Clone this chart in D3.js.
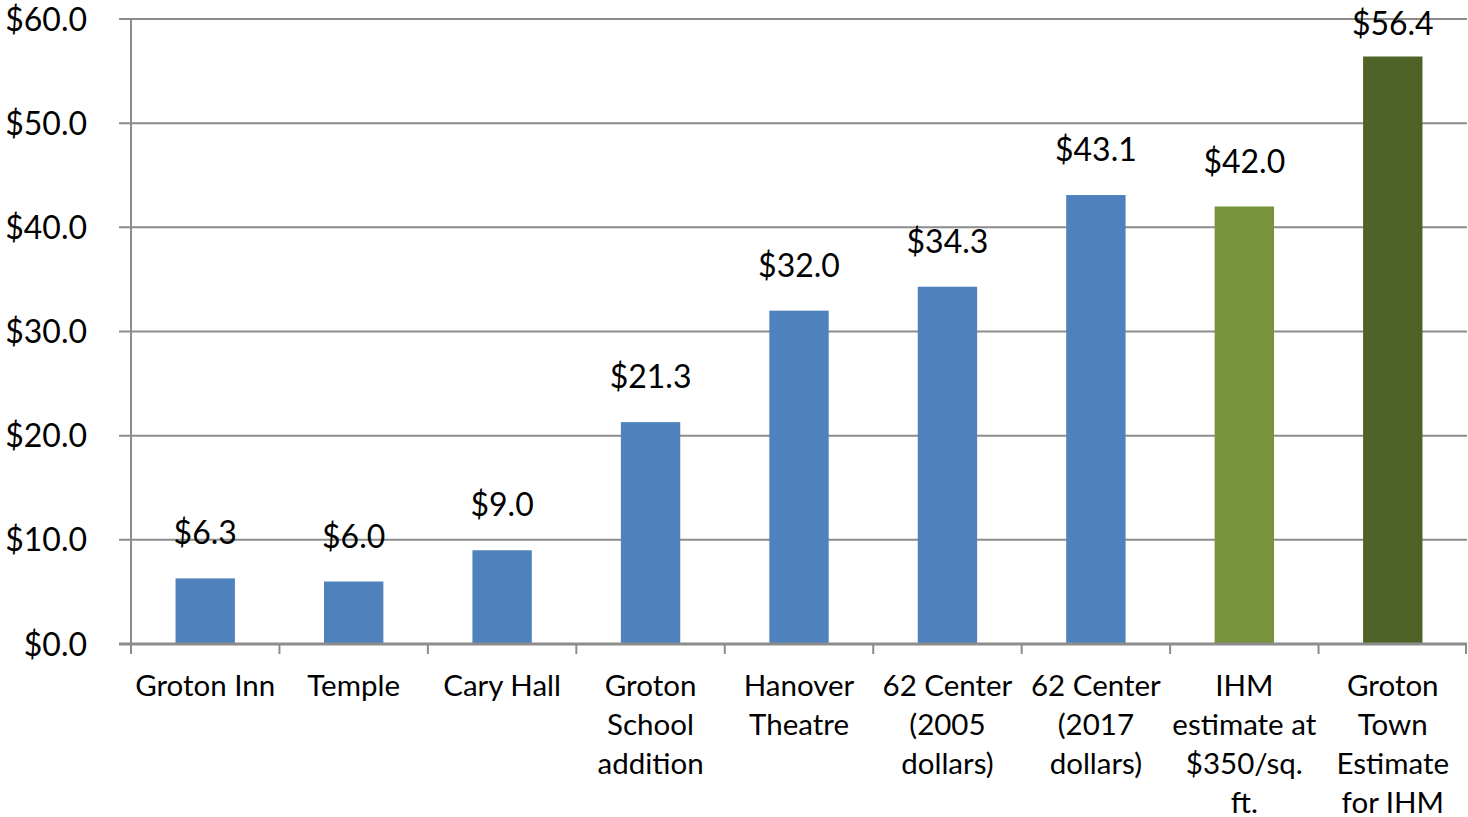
<!DOCTYPE html>
<html>
<head>
<meta charset="utf-8">
<script src="https://cdn.jsdelivr.net/npm/d3@7"></script>
<style>
  body { margin: 0; background: #fff; }
  svg { display: block; font-family: Lato, "Open Sans", sans-serif; }
</style>
</head>
<body>
<svg id="chart" width="1468" height="817"></svg>
<script>
// categories (line breaks as in the original chart)
const categories = [
  "Groton Inn",
  "Temple",
  "Cary Hall",
  "Groton\nSchool\naddition",
  "Hanover\nTheatre",
  "62 Center\n(2005\ndollars)",
  "62 Center\n(2017\ndollars)",
  "IHM\nestimate at\n$350/sq.\nft.",
  "Groton\nTown\nEstimate\nfor IHM"
];
const values = [6.3, 6.0, 9.0, 21.3, 32.0, 34.3, 43.1, 42.0, 56.4];
const barColors = ["#4F81BD", "#4F81BD", "#4F81BD", "#4F81BD", "#4F81BD", "#4F81BD", "#4F81BD", "#77933C", "#4F6228"];
const yTicks = [0, 10, 20, 30, 40, 50, 60];

const margin = {left: 131, right: 1, top: 19, bottom: 173};
const width = 1468, height = 817;
const catFont = 29.5;
const numFont = 32;

const svg = d3.select("#chart");

const x = d3.scaleBand()
  .domain(categories)
  .range([margin.left, width - margin.right])
  .paddingInner(0.6)
  .paddingOuter(0.3);

const y = d3.scaleLinear()
  .domain([0, 60])
  .range([height - margin.bottom, margin.top]);

// gridlines
svg.append("g")
  .selectAll("line")
  .data(yTicks)
  .enter()
  .append("line")
  .attr("x1", margin.left - 12)
  .attr("x2", width - margin.right)
  .attr("y1", d => y(d))
  .attr("y2", d => y(d))
  .attr("stroke", "#8c8c8c")
  .attr("stroke-width", 2);

// y axis labels
svg.append("g")
  .selectAll("text")
  .data(yTicks)
  .enter()
  .append("text")
  .attr("x", 87)
  .attr("y", d => y(d))
  .attr("dy", "0.36em")
  .attr("text-anchor", "end")
  .attr("font-size", numFont)
  .attr("fill", "#000")
  .text(d => "$" + d.toFixed(1));

// bars
svg.append("g")
  .selectAll("rect")
  .data(values)
  .enter()
  .append("rect")
  .attr("x", (d, i) => x(categories[i]))
  .attr("y", d => y(d))
  .attr("width", x.bandwidth())
  .attr("height", d => y(0) - y(d))
  .attr("fill", (d, i) => barColors[i]);

// axes lines
svg.append("line")
  .attr("x1", margin.left).attr("x2", margin.left)
  .attr("y1", margin.top).attr("y2", y(0) + 10)
  .attr("stroke", "#8c8c8c").attr("stroke-width", 2);

svg.append("line")
  .attr("x1", margin.left - 12).attr("x2", width - margin.right)
  .attr("y1", y(0)).attr("y2", y(0))
  .attr("stroke", "#8c8c8c").attr("stroke-width", 3);

// x ticks at band boundaries
const step = x.step();
const boundaries = d3.range(categories.length + 1).map(i => margin.left + i * step);
svg.append("g")
  .selectAll("line")
  .data(boundaries)
  .enter()
  .append("line")
  .attr("x1", d => Math.min(d, width - margin.right - 1))
  .attr("x2", d => Math.min(d, width - margin.right - 1))
  .attr("y1", y(0))
  .attr("y2", y(0) + 10)
  .attr("stroke", "#8c8c8c")
  .attr("stroke-width", 2);

// value labels
svg.append("g")
  .selectAll("text")
  .data(values)
  .enter()
  .append("text")
  .attr("x", (d, i) => x(categories[i]) + x.bandwidth() / 2)
  .attr("y", d => Math.max(y(d) - 34, 35))
  .attr("text-anchor", "middle")
  .attr("font-size", numFont)
  .attr("fill", "#000")
  .text(d => "$" + d.toFixed(1));

// category labels
const catLabels = svg.append("g")
  .selectAll("text")
  .data(categories)
  .enter()
  .append("text")
  .attr("x", d => x(d) + x.bandwidth() / 2)
  .attr("y", y(0) + 52)
  .attr("text-anchor", "middle")
  .attr("font-size", catFont)
  .attr("fill", "#000");

catLabels.selectAll("tspan")
  .data(d => d.split("\n"))
  .enter()
  .append("tspan")
  .attr("x", function() { return d3.select(this.parentNode).attr("x"); })
  .attr("dy", (d, i) => i === 0 ? 0 : 39)
  .text(d => d);
</script>
</body>
</html>
